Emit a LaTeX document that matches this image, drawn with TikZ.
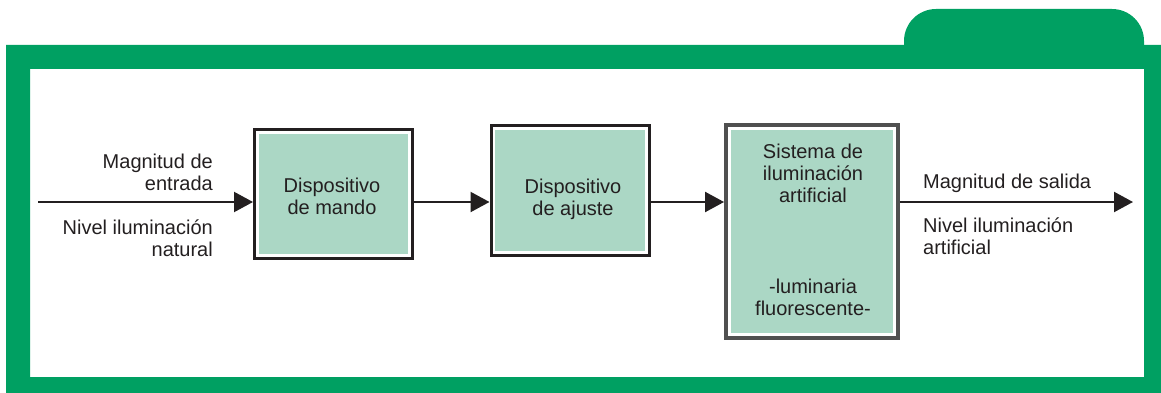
\documentclass[tikz,border=0pt]{standalone}
\usepackage{fontspec}
\setmainfont{Liberation Sans}
\usetikzlibrary{arrows.meta}
\definecolor{framegreen}{HTML}{00A062}
\definecolor{boxfill}{HTML}{ABD7C5}
\definecolor{inkdark}{HTML}{231F20}
\definecolor{boxgray}{HTML}{505050}
\tikzset{
  bloque/.style={draw=inkdark, line width=3pt, fill=white, inner sep=0pt,
    path picture={\fill[boxfill] ([shift={(#1,-#1)}]path picture bounding box.north west)
      rectangle ([shift={(-#1,#1)}]path picture bounding box.south east);}},
  bloque/.default=4.4pt,
  txt/.style={text=inkdark, font=\fontsize{20}{22}\selectfont, inner sep=0pt, align=center},
  flecha/.style={draw=inkdark, line width=2.2pt, -{Triangle[length=19pt,width=20pt]}}
}
\begin{document}
\begin{tikzpicture}[x=1pt,y=-1pt]
  \useasboundingbox (0,0) rectangle (1161,393);
  % marco verde con pestana
  \fill[framegreen,even odd rule] (6,45) rectangle (1161,393) (30,69) rectangle (1144,377);
  \fill[framegreen] (904,46) -- (904,41) arc[start angle=180,end angle=270,radius=32]
    -- (1112,9) arc[start angle=270,end angle=360,radius=32] -- (1144,46) -- cycle;
  % bloques
  \node[bloque, minimum width=158pt, minimum height=129pt] (mando) at (333.5,194) {};
  \node[bloque, minimum width=158pt, minimum height=129pt] (ajuste) at (570,190.5) {};
  \node[bloque=4.9pt, draw=boxgray, line width=4.4pt, minimum width=171.5pt, minimum height=212.5pt] (sistema) at (812,231.5) {};
  \node[txt, anchor=north] (mandotxt) at (332,177.5) {Dispositivo\\de mando};
  \node[txt, anchor=north] (ajustetxt) at (573,178.5) {Dispositivo\\de ajuste};
  \node[txt, anchor=north] (sistematxt) at (813,143.5) {Sistema de\\iluminación\\artificial};
  \node[txt, anchor=north] (luminariatxt) at (813,278.5) {-luminaria\\fluorescente-};
  % entrada y salida
  \node[txt, align=right, anchor=north east] (entrada) at (213,154) {Magnitud de\\entrada};
  \node[txt, align=right, anchor=north east] (natural) at (213,219.5) {Nivel iluminación\\natural};
  \node[txt, align=left, anchor=north west] (salida) at (923,174) {Magnitud de salida};
  \node[txt, align=left, anchor=north west] (artificial) at (923,217.5) {Nivel iluminación\\artificial};
  % flechas
  \coordinate (in) at (38,202);
  \coordinate (out) at (1133,202);
  \draw[flecha] (in) -- (in -| mando.west);
  \draw[flecha] (mando.east |- in) -- (ajuste.west |- in);
  \draw[flecha] (ajuste.east |- in) -- (sistema.west |- in);
  \draw[flecha] (sistema.east |- in) -- (out);
\end{tikzpicture}
\end{document}
